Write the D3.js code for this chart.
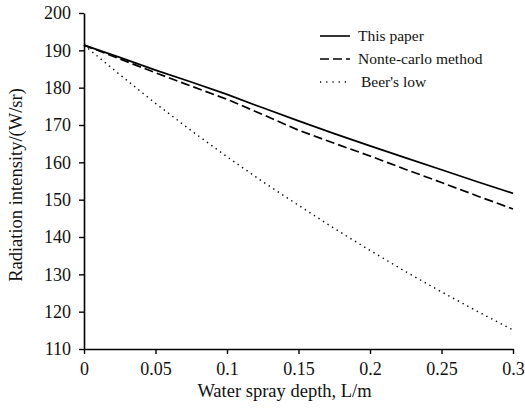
<!DOCTYPE html>
<html>
<head>
<meta charset="utf-8">
<script src="https://cdn.jsdelivr.net/npm/d3@7"></script>
<style>
  body { margin: 0; background: #fff; }
  svg { display: block; font-family: "Liberation Serif", "Times New Roman", serif; }
</style>
</head>
<body>
<div id="chart"></div>
<script>
const depth = [0, 0.025, 0.05, 0.075, 0.1, 0.125, 0.15, 0.175, 0.2, 0.225, 0.25, 0.275, 0.3];
const thisPaper = [191.4, 188.1, 184.7, 181.5, 178.2, 174.6, 171.1, 167.7, 164.4, 161.2, 158.0, 154.8, 151.7];
const monteCarlo = [191.4, 187.7, 184.0, 180.4, 176.9, 172.8, 168.6, 165.1, 161.7, 158.1, 154.6, 151.0, 147.5];
const beersLaw = [191.4, 183.5, 175.8, 168.5, 161.5, 154.8, 148.5, 142.3, 136.4, 130.7, 125.3, 120.1, 115.1];
const xTicks = [0, 0.05, 0.1, 0.15, 0.2, 0.25, 0.3];
const yTicks = [110, 120, 130, 140, 150, 160, 170, 180, 190, 200];

const series = [
  { name: 'This paper', values: thisPaper, dash: null },
  { name: 'Nonte-carlo method', values: monteCarlo, dash: '9,4' },
  { name: "Beer's low", values: beersLaw, dash: '1.4,4' }
];

const width = 525;
const height = 408;
const margin = { top: 13, right: 12, bottom: 59, left: 84 };

const svg = d3.select('#chart').append('svg')
  .attr('width', width)
  .attr('height', height);

const x = d3.scaleLinear().domain([0, 0.3]).range([margin.left, width - margin.right]);
const y = d3.scaleLinear().domain([110, 200]).range([height - margin.bottom, margin.top]);

// axes
const axisX = svg.append('g')
  .attr('transform', `translate(0,${height - margin.bottom})`)
  .call(d3.axisBottom(x).tickValues(xTicks).tickFormat(d3.format('')).tickSize(5).tickSizeOuter(0).tickPadding(8));

const axisY = svg.append('g')
  .attr('transform', `translate(${margin.left},0)`)
  .call(d3.axisLeft(y).tickValues(yTicks).tickSize(5).tickSizeOuter(0).tickPadding(8));

[axisX, axisY].forEach((g) => {
  g.select('.domain').attr('stroke', '#000').attr('stroke-width', 1.6);
  g.selectAll('.tick line').attr('stroke', '#000').attr('stroke-width', 1.4);
  g.selectAll('.tick text')
    .attr('fill', '#111')
    .style('font-family', '"Liberation Serif", "Times New Roman", serif')
    .style('font-size', '18px');
});

// curves
const line = d3.line()
  .x((d, i) => x(depth[i]))
  .y((d) => y(d));

svg.append('g').selectAll('path')
  .data(series)
  .join('path')
  .attr('d', (s) => line(s.values))
  .attr('fill', 'none')
  .attr('stroke', '#000')
  .attr('stroke-width', (s) => (s.dash === '1.4,4' ? 1.4 : 1.7))
  .attr('stroke-dasharray', (s) => s.dash);

// legend
const legend = svg.append('g').attr('transform', 'translate(320,36)');
const rows = legend.selectAll('g')
  .data(series)
  .join('g')
  .attr('transform', (s, i) => `translate(0,${i * 23})`);

rows.append('line')
  .attr('x1', 0)
  .attr('x2', 30)
  .attr('stroke', '#000')
  .attr('stroke-width', 1.6)
  .attr('stroke-dasharray', (s) => (s.dash === '1.4,4' ? '1.2,5' : s.dash));

rows.append('text')
  .attr('x', (s, i) => (i === 2 ? 41 : 38))
  .attr('dy', '0.35em')
  .style('font-size', '15.5px')
  .attr('fill', '#111')
  .text((s) => s.name);

// axis titles
svg.append('text')
  .attr('x', (x(0) + x(0.3)) / 2 - 14)
  .attr('y', 397)
  .attr('text-anchor', 'middle')
  .style('font-size', '18.5px')
  .attr('fill', '#111')
  .text('Water spray depth, L/m');

svg.append('text')
  .attr('transform', 'translate(22,185) rotate(-90)')
  .attr('text-anchor', 'middle')
  .style('font-size', '18.5px')
  .attr('fill', '#111')
  .text('Radiation intensity/(W/sr)');
</script>
</body>
</html>
